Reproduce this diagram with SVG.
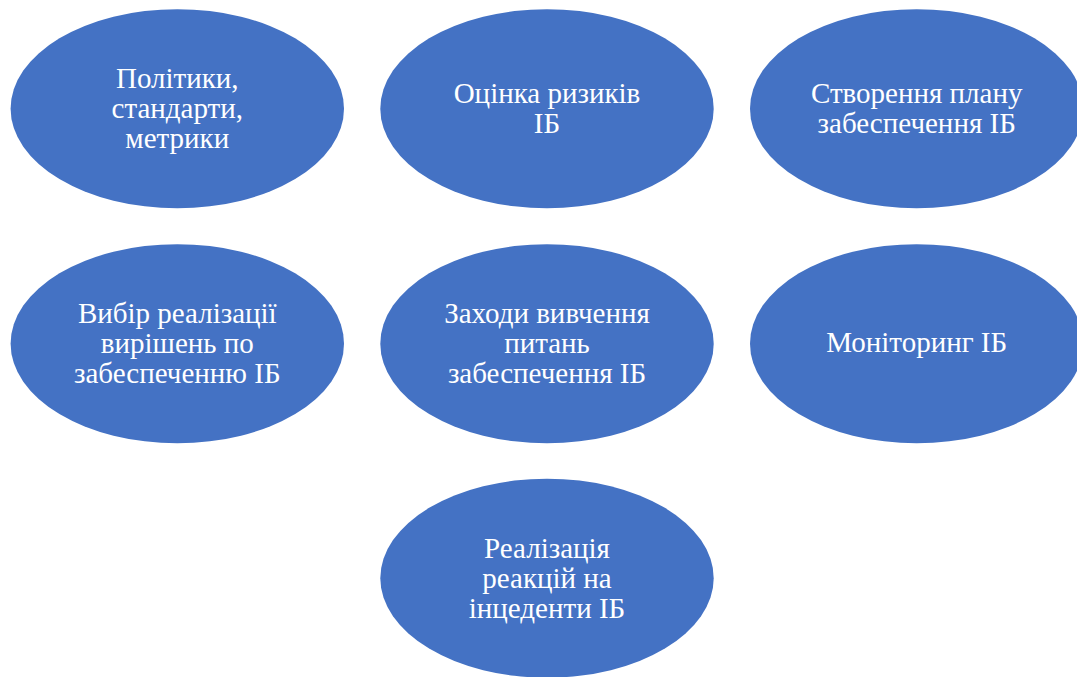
<svg xmlns="http://www.w3.org/2000/svg" width="1077" height="677" viewBox="0 0 1077 677">
<style>
.n{fill:#4472C4;}
.t{fill:#FFFFFF;font-family:"Liberation Serif","Times New Roman",serif;font-size:29px;text-anchor:middle;}
</style>
<rect width="1077" height="677" fill="#FFFFFF"/>
<g id="connectors"/>
<g id="n1"><ellipse class="n" cx="177.3" cy="108.7" rx="166.7" ry="99.5"/>
<text class="t"><tspan x="177.3" y="87.5">Політики,</tspan><tspan x="177.3" y="118">стандарти,</tspan><tspan x="177.3" y="148.3">метрики</tspan></text></g>
<g id="n2"><ellipse class="n" cx="547" cy="108.7" rx="166.7" ry="99.5"/>
<text class="t"><tspan x="547" y="102.7">Оцінка ризиків</tspan><tspan x="547" y="132.5">ІБ</tspan></text></g>
<g id="n3"><ellipse class="n" cx="916.7" cy="108.7" rx="166.7" ry="99.5"/>
<text class="t"><tspan x="916.7" y="102.7">Створення плану</tspan><tspan x="916.7" y="132.5">забеспечення ІБ</tspan></text></g>
<g id="n4"><ellipse class="n" cx="177.3" cy="343.7" rx="166.7" ry="99.5"/>
<text class="t"><tspan x="177.3" y="323.3">Вибір реалізації</tspan><tspan x="177.3" y="353.3">вирішень по</tspan><tspan x="177.3" y="383.3">забеспеченню ІБ</tspan></text></g>
<g id="n5"><ellipse class="n" cx="547" cy="343.7" rx="166.7" ry="99.5"/>
<text class="t"><tspan x="547" y="323.3">Заходи вивчення</tspan><tspan x="547" y="353.3">питань</tspan><tspan x="547" y="383.3">забеспечення ІБ</tspan></text></g>
<g id="n6"><ellipse class="n" cx="916.7" cy="343.7" rx="166.7" ry="99.5"/>
<text class="t"><tspan x="916.7" y="352.3">Моніторинг ІБ</tspan></text></g>
<g id="n7"><ellipse class="n" cx="547" cy="578.2" rx="166.7" ry="99.5"/>
<text class="t"><tspan x="547" y="558.3">Реалізація</tspan><tspan x="547" y="588.3">реакцій на</tspan><tspan x="547" y="618.3">інцеденти ІБ</tspan></text></g>
</svg>
